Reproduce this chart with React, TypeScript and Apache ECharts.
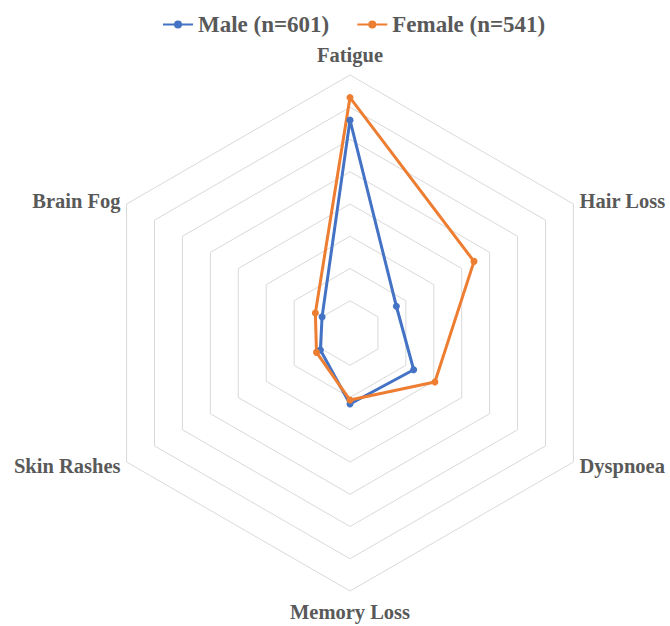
import React, { useEffect, useRef } from "react";
import * as echarts from "echarts";

// Indicators in ECharts order (counter-clockwise starting at the top)
const categories = ["Fatigue", "Brain Fog", "Skin Rashes", "Memory Loss", "Dyspnoea", "Hair Loss"];
const maleValues = [33, 5.0, 5.3, 11, 11.4, 8.3];
const femaleValues = [36.5, 6.2, 6.0, 10.4, 15.2, 22.2];
const seriesNames = ["Male (n=601)", "Female (n=541)"];
const seriesColors = ["#4472C4", "#ED7D31"];
const axisMax = 40;
const splitCount = 8;

const legendIcon =
  "path://M0,3L30,3L30,5L0,5Z M11,4A4,4 0 1,1 19,4A4,4 0 1,1 11,4Z";

export default function App() {
  const ref = useRef<HTMLDivElement>(null);
  useEffect(() => {
    if (!ref.current) return;
    const chart = echarts.init(ref.current, undefined, { renderer: "svg" });
    const font = "'Liberation Serif', 'Times New Roman', serif";
    chart.setOption({
      animation: false,
      backgroundColor: "#ffffff",
      color: seriesColors,
      legend: {
        top: 8,
        left: 158,
        itemWidth: 30,
        itemHeight: 8,
        itemGap: 28,
        icon: legendIcon,
        data: seriesNames,
        textStyle: { fontFamily: font, fontWeight: "bold", fontSize: 23, color: "#595959" },
      },
      radar: {
        center: [350, 333],
        radius: 258,
        startAngle: 90,
        splitNumber: splitCount,
        shape: "polygon",
        nameGap: 7,
        indicator: categories.map((c) => ({ name: c, min: 0, max: axisMax })),
        axisName: {
          fontFamily: font,
          fontWeight: "bold",
          fontSize: 20.5,
          lineHeight: 27,
          color: "#595959",
        },
        axisLine: { show: false },
        axisTick: { show: false },
        axisLabel: { show: false },
        splitLine: { lineStyle: { color: "#D9D9D9", width: 1 } },
        splitArea: { show: false },
      },
      series: [
        {
          type: "radar",
          symbol: "circle",
          symbolSize: 7,
          data: [
            {
              name: seriesNames[0],
              value: maleValues,
              lineStyle: { color: seriesColors[0], width: 3 },
              itemStyle: { color: seriesColors[0] },
            },
            {
              name: seriesNames[1],
              value: femaleValues,
              lineStyle: { color: seriesColors[1], width: 3 },
              itemStyle: { color: seriesColors[1] },
            },
          ],
        },
      ],
    });
    return () => chart.dispose();
  }, []);
  return (
    <div
      ref={ref}
      style={{ position: "fixed", left: 0, top: 0, width: 670, height: 626 }}
    />
  );
}
